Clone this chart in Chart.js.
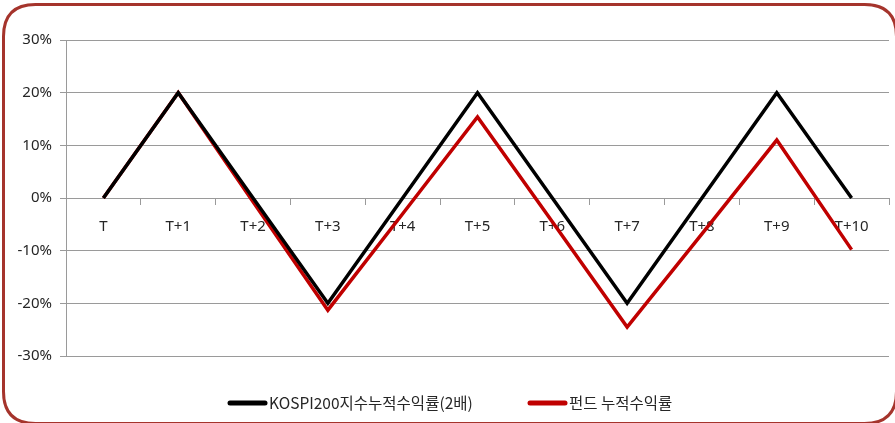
<!DOCTYPE html>
<html>
<head>
<meta charset="utf-8">
<script src="https://cdn.jsdelivr.net/npm/chart.js@4"></script>
<style>
html,body{margin:0;padding:0;background:#fff;}
#wrap{position:relative;width:895px;height:423px;}
canvas{display:block;}
</style>
</head>
<body>
<div id="wrap"><canvas id="c" width="895" height="423"></canvas></div>
<script>
const categories = ['T','T+1','T+2','T+3','T+4','T+5','T+6','T+7','T+8','T+9','T+10'];
const kospiSeries = [0, 0.20, 0, -0.20, 0, 0.20, 0, -0.20, 0, 0.20, 0];
const fundSeries = [0, 0.20, -0.007, -0.213, -0.030, 0.154, -0.045, -0.245, -0.068, 0.110, -0.098];
const seriesNames = ['KOSPI200지수누적수익률(2배)', '펀드 누적수익률'];
const yTicks = [-0.3, -0.2, -0.1, 0, 0.1, 0.2, 0.3];

const borderPlugin = {
  id: 'frame',
  afterDraw(chart) {
    const ctx = chart.ctx;
    ctx.save();
    ctx.strokeStyle = '#a5342c';
    ctx.lineWidth = 3;
    const x = 3.5, y = 4.5, w = 893, h = 419, r = 32;
    ctx.beginPath();
    ctx.moveTo(x + r, y);
    ctx.lineTo(x + w - r, y);
    ctx.quadraticCurveTo(x + w, y, x + w, y + r);
    ctx.lineTo(x + w, y + h - r);
    ctx.quadraticCurveTo(x + w, y + h, x + w - r, y + h);
    ctx.lineTo(x + r, y + h);
    ctx.quadraticCurveTo(x, y + h, x, y + h - r);
    ctx.lineTo(x, y + r);
    ctx.quadraticCurveTo(x, y, x + r, y);
    ctx.stroke();
    ctx.restore();
  }
};

const legendPlugin = {
  id: 'customLegend',
  afterDraw(chart) {
    const ctx = chart.ctx;
    const starts = [228, 528];
    const yc = 403;
    ctx.save();
    ctx.font = '15.5px "Noto Sans CJK KR", "Noto Sans", sans-serif';
    ctx.textBaseline = 'middle';
    ctx.textAlign = 'left';
    chart.data.datasets.forEach((ds, i) => {
      const x0 = starts[i];
      ctx.strokeStyle = ds.borderColor;
      ctx.lineWidth = 5;
      ctx.lineCap = 'round';
      ctx.beginPath();
      ctx.moveTo(x0 + 2, yc);
      ctx.lineTo(x0 + 37, yc);
      ctx.stroke();
      ctx.fillStyle = '#262626';
      ctx.fillText(ds.label, x0 + 41, yc);
    });
    ctx.restore();
  }
};

const axisFont = { family: '"Noto Sans", "Noto Sans CJK KR", sans-serif', size: 15 };

new Chart(document.getElementById('c'), {
  type: 'line',
  data: {
    labels: categories,
    datasets: [
      { label: seriesNames[0], data: kospiSeries, borderColor: '#000000', backgroundColor: '#000000', borderWidth: 3.5, pointRadius: 0, tension: 0 },
      { label: seriesNames[1], data: fundSeries, borderColor: '#c00000', backgroundColor: '#c00000', borderWidth: 3.5, pointRadius: 0, tension: 0 }
    ]
  },
  options: {
    responsive: false,
    animation: false,
    devicePixelRatio: 1,
    layout: { padding: { left: 0, right: 6, top: 40, bottom: 67 } },
    plugins: { legend: { display: false }, tooltip: { enabled: false } },
    scales: {
      x: {
        position: { y: 0 },
        offset: true,
        grid: { display: true, drawOnChartArea: false, drawTicks: true, tickLength: 6, offset: true, color: '#9a9a9a', lineWidth: 1 },
        border: { display: true, color: '#9a9a9a', width: 1 },
        ticks: { color: '#262626', padding: 14, maxRotation: 0, autoSkip: false, font: axisFont }
      },
      y: {
        min: -0.3,
        max: 0.3,
        afterFit(scale) { scale.width = 66; },
        afterBuildTicks(scale) { scale.ticks = yTicks.map(v => ({ value: v })); },
        grid: { color: '#9a9a9a', lineWidth: 1, tickLength: 6, drawTicks: true },
        border: { display: true, color: '#9a9a9a', width: 1 },
        ticks: {
          color: '#262626',
          padding: 8,
          font: axisFont,
          callback: v => Math.round(v * 100) + '%'
        }
      }
    }
  },
  plugins: [borderPlugin, legendPlugin]
});
</script>
</body>
</html>
